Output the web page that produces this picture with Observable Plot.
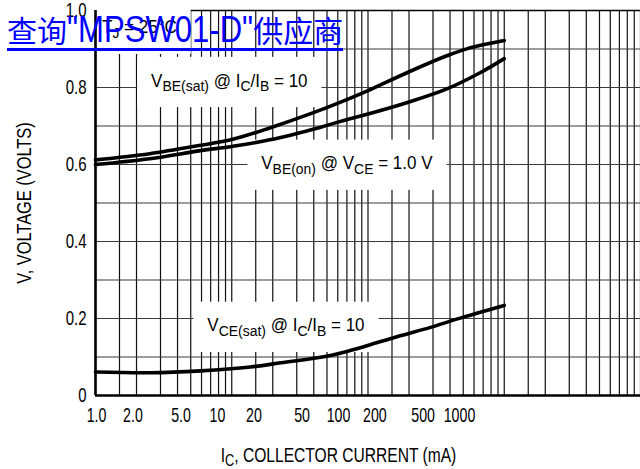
<!DOCTYPE html>
<html><head><meta charset="utf-8">
<script src="https://cdn.jsdelivr.net/npm/d3@7"></script>
<script src="https://cdn.jsdelivr.net/npm/@observablehq/plot@0.6"></script>
<style>
html,body{margin:0;padding:0;background:#fff;}
#wrap{position:relative;width:640px;height:469px;overflow:hidden;}
#main{position:absolute;left:0;top:0;}
#xaxis{position:absolute;left:0;top:400px;}
#link{position:absolute;left:7px;top:10px;height:38px;line-height:38px;color:#0000ff;font-family:"Noto Sans CJK SC",sans-serif;font-size:30px;border-bottom:3px solid #0000ff;white-space:nowrap;}
#link .lat{display:inline-block;line-height:38px;vertical-align:baseline;font-family:"Liberation Sans",Arial,sans-serif;font-size:37px;transform-origin:0 50%;}
</style></head><body>
<div id="wrap"><div id="main"></div><div id="xaxis"></div><div id="link">查询<span class="lat">"MPSW01-D"</span>供应商</div></div>
<script>
const FONT = '"Liberation Sans",Arial,sans-serif';

// Grid and ticks
const gridMantissas = [1, 1.5, 2, 3, 4, 5, 6, 7, 8, 9];
const gridDecades = [1, 10, 100, 1000];
const xGridValues = gridDecades.flatMap(d => gridMantissas.map(m => m * d)).concat([10000]);
const yGridValues = [0, 0.1, 0.2, 0.3, 0.4, 0.5, 0.6, 0.7, 0.8, 0.9, 1.0];
const yTickValues = [0, 0.2, 0.4, 0.6, 0.8, 1.0];
const yTickLabels = ["0", "0.2", "0.4", "0.6", "0.8", "1.0"];
const xTickValues = [1, 2, 5, 10, 20, 50, 100, 200, 500, 1000];
const xTickLabels = ["1.0", "2.0", "5.0", "10", "20", "50", "100", "200", "500", "1000"];
const xTitle = "I_{C}, COLLECTOR CURRENT (mA)";
const yTitle = "V, VOLTAGE (VOLTS)";

// Series: VBE(sat) @ IC/IB = 10
const vbeSatI = [1, 2.5, 5.9, 10, 19, 38, 63, 100, 195, 383, 537, 1000];
const vbeSatV = [0.612, 0.628, 0.650, 0.665, 0.695, 0.732, 0.762, 0.792, 0.839, 0.883, 0.901, 0.922];
// Series: VBE(on) @ VCE = 1.0 V
const vbeOnI = [1, 2.5, 5.9, 10, 19, 45, 63, 100, 195, 383, 670, 1000];
const vbeOnV = [0.600, 0.615, 0.636, 0.647, 0.664, 0.697, 0.712, 0.731, 0.761, 0.797, 0.839, 0.875];
// Series: VCE(sat) @ IC/IB = 10
const vceSatI = [1, 2.5, 5.9, 13.7, 23, 53, 124, 172, 288, 454, 1000];
const vceSatV = [0.061, 0.059, 0.064, 0.074, 0.085, 0.104, 0.140, 0.155, 0.177, 0.199, 0.234];

// Annotations
const labelText = ["T_{J} = 25°C", "V_{BE(sat)} @ I_{C}/I_{B} = 10", "V_{BE(on)} @ V_{CE} = 1.0 V", "V_{CE(sat)} @ I_{C}/I_{B} = 10"];
const labelI = [2.1, 9.6, 70, 25];
const labelV = [0.956, 0.818, 0.603, 0.182];

const rows = [
  ...vbeSatI.map((I, i) => ({series: "VBE(sat)", I, V: vbeSatV[i]})),
  ...vbeOnI.map((I, i) => ({series: "VBE(on)", I, V: vbeOnV[i]})),
  ...vceSatI.map((I, i) => ({series: "VCE(sat)", I, V: vceSatV[i]}))
];

const main = Plot.plot({
  width: 640, height: 469,
  marginLeft: 95, marginRight: 0, marginTop: 10, marginBottom: 74,
  x: {type: "log", domain: [1, 10000], axis: null},
  y: {domain: [0, 1]},
  style: {fontFamily: FONT, background: "#fff", overflow: "visible", color: "#000"},
  marks: [
    Plot.ruleX(xGridValues, {stroke: "#111", strokeWidth: 1.2}),
    Plot.ruleY(yGridValues, {stroke: "#3a3a3a", strokeWidth: 1.2}),
    Plot.ruleY([1], {stroke: "#000", strokeWidth: 1.6}),
    Plot.text(labelText, {x: (d, i) => labelI[i], y: (d, i) => labelV[i], text: d => d, fontSize: 18.5, fill: "#000"}),
    Plot.ruleX([1], {stroke: "#000", strokeWidth: 2.6}),
    Plot.ruleY([0], {stroke: "#000", strokeWidth: 2.6}),
    Plot.line(rows, {x: "I", y: "V", z: "series", stroke: "#000", strokeWidth: 3.6, curve: "catmull-rom"}),
    Plot.axisY({ticks: yTickValues, tickSize: 0, tickPadding: 9, fontSize: 20, tickFormat: (d) => yTickLabels[yTickValues.indexOf(d)], label: null}),
    Plot.text([yTitle], {frameAnchor: "left", textAnchor: "middle", rotate: -90, dx: -71, fontSize: 20.5, fill: "#000"})
  ]
});
document.getElementById("main").appendChild(main);

const xaxis = Plot.plot({
  width: 640, height: 69,
  marginLeft: 96, marginRight: 60, marginTop: 0, marginBottom: 0,
  x: {type: "log", domain: [1, 10000], axis: null},
  style: {fontFamily: FONT, background: "transparent", overflow: "visible", color: "#000"},
  marks: [
    Plot.text(xTickValues, {x: d => d, text: (d, i) => xTickLabels[i], frameAnchor: "top", textAnchor: "middle", lineAnchor: "middle", dy: 15, fontSize: 20, fill: "#000"}),
    Plot.text([xTitle], {frameAnchor: "bottom", textAnchor: "middle", lineAnchor: "middle", dy: -14, fontSize: 20, fill: "#000"})
  ]
});
document.getElementById("xaxis").appendChild(xaxis);

const NS = "http://www.w3.org/2000/svg";
function richify(el, fs, subScale, subShift) {
  const s = el.textContent;
  el.textContent = "";
  el.style.whiteSpace = "pre";
  const re = /_\{([^}]*)\}/g;
  const parts = [];
  let last = 0, m;
  while ((m = re.exec(s))) {
    if (m.index > last) parts.push([s.slice(last, m.index), false]);
    parts.push([m[1], true]);
    last = re.lastIndex;
  }
  if (last < s.length) parts.push([s.slice(last), false]);
  let cur = 0;
  for (const [t, sub] of parts) {
    const ts = document.createElementNS(NS, "tspan");
    ts.textContent = t;
    const target = sub ? subShift : 0;
    if (target !== cur) ts.setAttribute("dy", target - cur);
    cur = target;
    if (sub) ts.setAttribute("font-size", fs * subScale);
    el.appendChild(ts);
  }
}
// condensed look: compress each text along its own direction about its anchor
function narrow(el, sx) {
  const tr = el.getAttribute("transform") || "";
  el.setAttribute("transform", (tr + ` scale(${sx},1)`).trim());
}

d3.select(main).selectAll("text").each(function () {
  const t = this.textContent;
  if (labelText.includes(t)) {
    richify(this, 18.5, 0.82, 4.5);
    narrow(this, 0.92);
    const b = this.getBBox();
    const r = document.createElementNS(NS, "rect");
    const padX = 15, padY = 13;
    r.setAttribute("x", b.x - padX);
    r.setAttribute("y", b.y - padY);
    r.setAttribute("width", b.width + 2 * padX);
    r.setAttribute("height", b.height + 2 * padY);
    r.setAttribute("fill", "#fff");
    r.setAttribute("stroke", "none");
    r.setAttribute("transform", this.getAttribute("transform"));
    this.parentNode.insertBefore(r, this);
  } else if (t === yTitle) {
    narrow(this, 0.8);
  } else if (yTickLabels.includes(t)) {
    narrow(this, 0.75);
  }
});
d3.select(xaxis).selectAll("text").each(function () {
  const t = this.textContent;
  if (t === xTitle) {
    richify(this, 20, 0.82, 4.5);
    narrow(this, 0.78);
  } else if (xTickLabels.includes(t)) {
    narrow(this, 0.71);
  }
});

// Link overlay: condensed latin part
const lat = document.querySelector("#link .lat");
const w = lat.getBoundingClientRect().width;
const s = 0.84;
lat.style.transform = `scaleX(${s})`;
lat.style.marginRight = `${-(1 - s) * w}px`;
</script>
</body></html>
